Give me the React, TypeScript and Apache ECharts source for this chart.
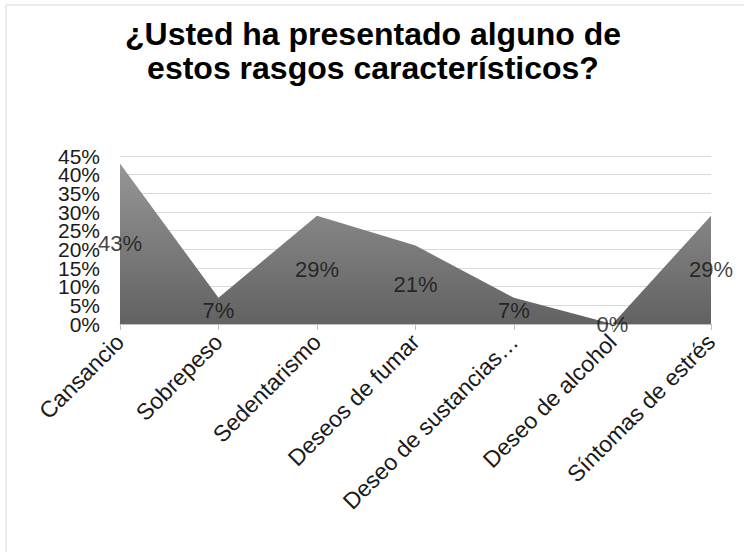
import React, { useEffect, useRef } from "react";
import * as echarts from "echarts";

const categories = [
  "Cansancio",
  "Sobrepeso",
  "Sedentarismo",
  "Deseos de fumar",
  "Deseo de sustancias…",
  "Deseo de alcohol",
  "Síntomas de estrés",
];
const values = [43, 7, 29, 21, 7, 0, 29];
const titleLines = ["¿Usted ha presentado alguno de", "estos rasgos característicos?"];
const yMax = 45;
const yStep = 5;

const FONT = "'Liberation Sans', Arial, sans-serif";

const yLabelStyle = {
  margin: 20,
  fontFamily: FONT,
  fontSize: 21,
  color: "#1a1a1a",
  hideOverlap: false,
};

export default function App() {
  const ref = useRef<HTMLDivElement>(null);
  useEffect(() => {
    document.body.style.margin = "0";
    const chart = echarts.init(ref.current!, null, { renderer: "svg" });
    const even = (v: number) => Math.round(v / yStep) % 2 === 0;
    chart.setOption({
      animation: false,
      backgroundColor: "#ffffff",
      title: {
        text: titleLines.join("\n"),
        left: 368,
        textAlign: "center",
        top: 12,
        textStyle: {
          fontFamily: FONT,
          fontSize: 32,
          fontWeight: "bold",
          color: "#000",
          lineHeight: 34,
        },
      },
      graphic: [
        {
          type: "rect",
          shape: { x: 6, y: 5, width: 900, height: 700 },
          style: { fill: "none", stroke: "#d9d9d9", lineWidth: 1 },
          silent: true,
          z: -1,
        },
      ],
      grid: { left: 120, right: 33, top: 156, bottom: 228, containLabel: false },
      xAxis: {
        type: "category",
        data: categories,
        boundaryGap: false,
        axisLine: { show: true, lineStyle: { color: "#bfbfbf" } },
        axisTick: { show: true, length: 6, lineStyle: { color: "#bfbfbf" } },
        axisLabel: {
          rotate: 45,
          interval: 0,
          margin: 14,
          fontFamily: FONT,
          fontSize: 23,
          color: "#1a1a1a",
        },
      },
      yAxis: [
        {
          type: "value",
          min: 0,
          max: yMax,
          interval: yStep,
          position: "left",
          axisLine: { show: false },
          axisTick: { show: false },
          axisLabel: {
            ...yLabelStyle,
            formatter: (v: number) => (even(v) ? `${v}%` : ""),
          },
          splitLine: { lineStyle: { color: "#d9d9d9", width: 1 } },
        },
        {
          type: "value",
          min: 0,
          max: yMax,
          interval: yStep,
          position: "left",
          offset: 0,
          axisLine: { show: false },
          axisTick: { show: false },
          axisLabel: {
            ...yLabelStyle,
            formatter: (v: number) => (even(v) ? "" : `${v}%`),
          },
          splitLine: { show: false },
        },
      ],
      series: [
        {
          type: "line",
          data: values,
          symbol: "none",
          lineStyle: { width: 0 },
          areaStyle: {
            opacity: 1,
            color: new echarts.graphic.LinearGradient(0, 0, 0, 1, [
              { offset: 0, color: "#969696" },
              { offset: 1, color: "#626262" },
            ]),
          },
          z: 2,
        },
        {
          type: "scatter",
          data: values.map((v) => v / 2),
          symbolSize: 0,
          z: 3,
          label: {
            show: true,
            position: "inside",
            formatter: (p: any) => `${values[p.dataIndex]}%`,
            fontFamily: FONT,
            fontSize: 22,
            color: "#111",
          },
        },
      ],
    });
    return () => chart.dispose();
  }, []);
  return (
    <div
      ref={ref}
      style={{ position: "absolute", left: 0, top: 0, width: 744, height: 552 }}
    />
  );
}
